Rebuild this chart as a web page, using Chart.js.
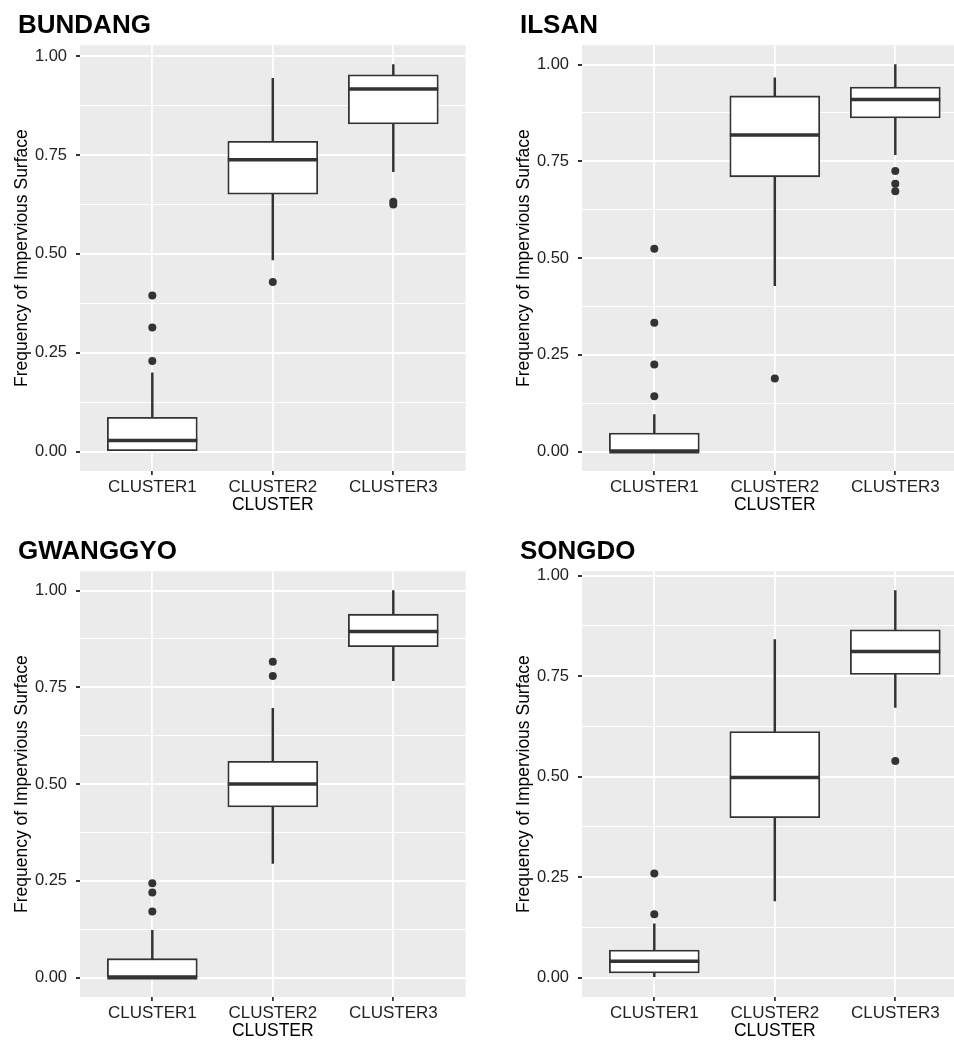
<!DOCTYPE html>
<html>
<head>
<meta charset="utf-8">
<title>Frequency of Impervious Surface</title>
<script src="https://cdn.jsdelivr.net/npm/chart.js@4.4.1/dist/chart.umd.min.js"></script>
<style>
body { margin: 0; background: #fff; width: 954px; height: 1042px; overflow: hidden; position: relative; }
.panel { position: absolute; width: 477px; height: 521px; }
</style>
</head>
<body>
<div class="panel" style="left:0;top:0"><canvas id="c0"></canvas></div>
<div class="panel" style="left:502px;top:0"><canvas id="c1"></canvas></div>
<div class="panel" style="left:0;top:526px"><canvas id="c2"></canvas></div>
<div class="panel" style="left:502px;top:526px"><canvas id="c3"></canvas></div>
<script>
// データ
var regions = ["BUNDANG", "ILSAN", "GWANGGYO", "SONGDO"];
var clusters = ["CLUSTER1", "CLUSTER2", "CLUSTER3"];
var yTicks = [0, 0.25, 0.5, 0.75, 1];
var yMinorTicks = [0.125, 0.375, 0.625, 0.875];
var yMin = [-0.049, -0.05, -0.05, -0.048];
var yMax = [1.028, 1.05, 1.05, 1.011];

// 箱ひげ図の値（地域ごと、クラスターごと）
var whiskerLow  = [[0, 0.485, 0.708], [0, 0.429, 0.767], [0, 0.295, 0.767], [0, 0.191, 0.672]];
var q1          = [[0, 0.651, 0.829], [0, 0.710, 0.862], [0, 0.441, 0.855], [0.012, 0.398, 0.754]];
var median      = [[0.028, 0.738, 0.917], [0, 0.818, 0.910], [0, 0.500, 0.894], [0.041, 0.498, 0.811]];
var q3          = [[0.087, 0.785, 0.953], [0.048, 0.919, 0.942], [0.049, 0.559, 0.939], [0.069, 0.612, 0.865]];
var whiskerHigh = [[0.199, 0.944, 0.979], [0.096, 0.966, 1.0], [0.122, 0.696, 1.0], [0.134, 0.841, 0.963]];
var outliers = [
    [[0.395, 0.314, 0.229], [0.429], [0.632, 0.625]],
    [[0.524, 0.333, 0.225, 0.143], [0.189], [0.725, 0.692, 0.673]],
    [[0.244, 0.220, 0.171], [0.816, 0.779], []],
    [[0.259, 0.158], [], [0.539]]
];

var fontFamily = "'Liberation Sans', Arial, Helvetica, sans-serif";
var lineColor = "#333333";

// 灰色の背景
var panelBg = {
    id: "panelBg",
    beforeDraw: function (chart) {
        var a = chart.chartArea;
        var ctx = chart.ctx;
        ctx.save();
        ctx.fillStyle = "#EBEBEB";
        ctx.fillRect(a.left, a.top, a.right - a.left, a.bottom - a.top);
        ctx.restore();
    }
};

function isMajor(v) {
    return yTicks.some(function (t) { return Math.abs(t - v) < 1e-9; });
}

function makeChart(p) {
    var boxData = [], whiskerData = [], medianData = [], outlierData = [];
    for (var i = 0; i < clusters.length; i++) {
        whiskerData.push({x: i + 1, y: [whiskerLow[p][i], whiskerHigh[p][i]]});
        boxData.push({x: i + 1, y: [q1[p][i], q3[p][i]]});
        medianData.push({x: i + 1, y: median[p][i]});
        for (var o of outliers[p][i]) {
            outlierData.push({x: i + 1, y: o});
        }
    }
    var allTicks = yTicks.concat(yMinorTicks).sort(function (a, b) { return a - b; });

    return new Chart(document.getElementById("c" + p), {
        type: "bar",
        data: {
            datasets: [
                {
                    // ひげ
                    type: "bar",
                    data: whiskerData,
                    backgroundColor: lineColor,
                    barThickness: 1.8,
                    grouped: false,
                    order: 3
                },
                {
                    // 箱
                    type: "bar",
                    data: boxData,
                    backgroundColor: "#ffffff",
                    borderColor: lineColor,
                    borderWidth: 1.8,
                    borderSkipped: false,
                    barThickness: 90,
                    grouped: false,
                    order: 2
                },
                {
                    // 中央値
                    type: "line",
                    data: medianData,
                    showLine: false,
                    pointStyle: "line",
                    pointRadius: 45,
                    pointHoverRadius: 45,
                    pointBorderWidth: 3.5,
                    pointBorderColor: lineColor,
                    order: 1
                },
                {
                    // 外れ値
                    type: "line",
                    data: outlierData,
                    showLine: false,
                    pointRadius: 4,
                    pointHoverRadius: 4,
                    pointBackgroundColor: lineColor,
                    pointBorderWidth: 0,
                    order: 0
                }
            ]
        },
        options: {
            responsive: true,
            maintainAspectRatio: false,
            animation: false,
            layout: {autoPadding: false, padding: {left: 18, right: 11.4, top: 0, bottom: 0}},
            plugins: {
                legend: {display: false},
                tooltip: {enabled: false},
                title: {
                    display: true,
                    text: regions[p],
                    align: "start",
                    color: "#000",
                    font: {family: fontFamily, size: 26, weight: "bold"},
                    padding: {top: 10, bottom: 4}
                }
            },
            scales: {
                x: {
                    type: "linear",
                    min: 0.4,
                    max: 3.6,
                    offset: false,
                    afterBuildTicks: function (s) {
                        s.ticks = clusters.map(function (c, i) { return {value: i + 1}; });
                    },
                    afterFit: function (s) {
                        s.height = 50;
                        s.paddingLeft = 0;
                        s.paddingRight = 0;
                    },
                    border: {display: false},
                    grid: {color: "#ffffff", lineWidth: 1.8, offset: false, tickColor: lineColor, tickLength: 4},
                    ticks: {
                        autoSkip: false,
                        maxRotation: 0,
                        padding: 2,
                        color: "#222",
                        font: {family: fontFamily, size: 17},
                        callback: function (v) { return clusters[Math.round(v) - 1]; }
                    },
                    title: {
                        display: true,
                        text: "CLUSTER",
                        color: "#000",
                        font: {family: fontFamily, size: 17.5},
                        padding: {top: 0, bottom: 5.5}
                    }
                },
                y: {
                    type: "linear",
                    min: yMin[p],
                    max: yMax[p],
                    afterBuildTicks: function (s) {
                        s.ticks = allTicks.map(function (v) { return {value: v}; });
                    },
                    afterFit: function (s) { s.width = 62; },
                    border: {display: false},
                    grid: {
                        color: "#ffffff",
                        lineWidth: function (c) { return isMajor(c.tick.value) ? 2 : 1.1; },
                        tickColor: function (c) { return isMajor(c.tick.value) ? lineColor : "rgba(0,0,0,0)"; },
                        tickLength: 4
                    },
                    ticks: {
                        autoSkip: false,
                        padding: 9,
                        color: "#222",
                        font: {family: fontFamily, size: 16.5},
                        callback: function (v) { return isMajor(v) ? v.toFixed(2) : ""; }
                    },
                    title: {
                        display: true,
                        text: "Frequency of Impervious Surface",
                        color: "#000",
                        font: {family: fontFamily, size: 17.5},
                        padding: {top: -6.5, bottom: 0}
                    }
                }
            }
        },
        plugins: [panelBg]
    });
}

var charts = [];
for (var p = 0; p < regions.length; p++) {
    charts.push(makeChart(p));
}
</script>
</body>
</html>
